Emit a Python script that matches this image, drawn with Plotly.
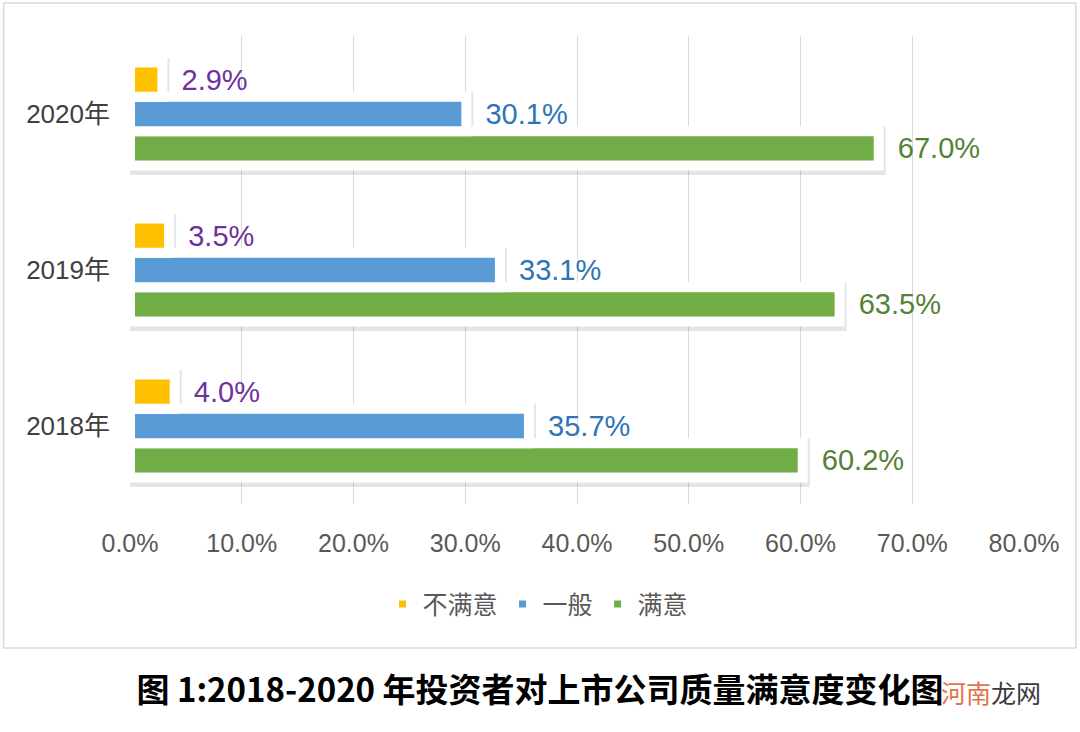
import plotly.graph_objects as go

years = ["2018年", "2019年", "2020年"]
unsatisfied = [0.040, 0.035, 0.029]
average = [0.357, 0.331, 0.301]
satisfied = [0.602, 0.635, 0.670]
series_names = ["不满意", "一般", "满意"]
tick_vals = [0, 0.1, 0.2, 0.3, 0.4, 0.5, 0.6, 0.7, 0.8]

bar_colors = {"不满意": "#FFC000", "一般": "#5B9BD5", "满意": "#70AD47"}
text_colors = {"不满意": "#7030A0", "一般": "#2E75B6", "满意": "#548235"}
values = {"不满意": unsatisfied, "一般": average, "满意": satisfied}

font_lat = "Liberation Sans, Arial, Noto Sans CJK SC, sans-serif"
font_cjk = "Noto Sans CJK SC, sans-serif"

fig = go.Figure()
order = ["满意", "一般", "不满意"]
# soft shadows (drawn on the lower, slightly shifted axis)
for name in order:
    fig.add_trace(go.Bar(
        y=years, x=values[name], name=name, orientation="h",
        marker=dict(color="rgba(0,0,0,0.10)", line=dict(color="rgba(0,0,0,0.10)", width=14)),
        showlegend=False, hoverinfo="skip", yaxis="y",
    ))
for name in order:
    fig.add_trace(go.Bar(
        y=years, x=values[name], name=name, orientation="h",
        marker=dict(color=bar_colors[name], line=dict(color="white", width=10)),
        texttemplate="\u00a0\u00a0%{x:.1%}", textposition="outside",
        textfont=dict(color=text_colors[name], size=29, family=font_lat),
        cliponaxis=False, yaxis="y2",
    ))

shift = 2.5 * 3 / 468
fig.update_layout(
    width=1080, height=732,
    margin=dict(l=129.5, r=55.5, t=36, b=228),
    paper_bgcolor="white", plot_bgcolor="rgba(0,0,0,0)",
    barmode="group", bargap=0.34, bargroupgap=0,
    showlegend=True,
    legend=dict(orientation="h", traceorder="reversed", x=0.462 - 5 / 895.5, xanchor="center",
                y=-0.214, yanchor="middle", font=dict(size=25, color="#595959", family=font_cjk),
                itemwidth=30),
    title=dict(text="<b>图 1:2018-2020 年投资者对上市公司质量满意度变化图</b>",
               xref="container", x=0.5, xanchor="center",
               yref="container", y=1 - 690 / 732, yanchor="middle",
               font=dict(size=33, color="#000000", family=font_cjk)),
    xaxis=dict(range=[0, 0.8], tickvals=tick_vals, tickformat=".1%",
               showgrid=True, gridcolor="#D9D9D9", gridwidth=1, zeroline=False,
               showline=False, ticks="", ticklabelstandoff=22,
               tickfont=dict(size=25, color="#595959", family=font_lat)),
    yaxis=dict(range=[-0.5 + shift, 2.5 + shift], showgrid=False, zeroline=False,
               showline=False, ticks="", showticklabels=False),
    yaxis2=dict(overlaying="y", range=[-0.5, 2.5], side="left",
                showgrid=False, zeroline=False, showline=False, ticks="",
                ticklabelstandoff=19,
                tickfont=dict(size=26, color="#404040", family=font_lat)),
    shapes=[dict(type="rect", xref="paper", yref="paper",
                 x0=-0.1413, x1=1.058, y0=-0.3077, y1=1.0705,
                 line=dict(color="#D9D9D9", width=1.5), fillcolor="rgba(0,0,0,0)", layer="below")],
    annotations=[dict(text="<span style='color:#E2734E'>河南</span><span style='color:#3A3A3A'>龙网</span>",
                      xref="paper", yref="paper", x=(992 - 129.5) / 895.5, y=(504 - 692) / 468,
                      xanchor="center", yanchor="middle", showarrow=False,
                      font=dict(size=25, family=font_cjk))],
)

fig.write_html("out.html", config={"displayModeBar": False},
               post_script="document.body.style.margin='0';")
